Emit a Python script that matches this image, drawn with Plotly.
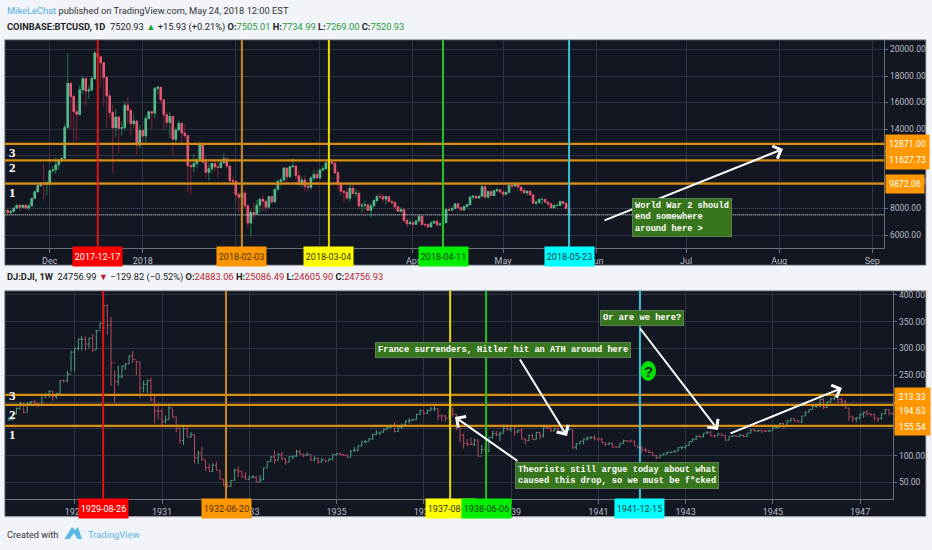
import pandas as pd
import plotly.graph_objects as go

# BTCUSD daily, 2017-11-16 to 2018-05-23
btc_close = [7850, 7690, 7790, 8030, 8240, 8090, 8240, 8030, 8200, 8760, 9260, 9720, 9900, 9850, 9950,
             10860, 10910, 11290, 11640, 11790, 14130, 17450, 16450, 15300, 15100, 16970, 17800, 16870, 16950, 17800, 19730,
             19450, 19000, 17900, 16500, 15250, 14100, 14900, 14050, 14100, 15800, 15400, 14400, 14600, 12790, 13880,
             13470, 14800, 15300, 15200, 17070, 17150, 16200, 15070, 14500, 14950, 13230, 13930, 14430, 13700, 13500, 11230,
             11150, 11400, 11600, 12810, 11500, 10740, 11000, 11400, 11150, 11100, 11450, 11750, 11200, 10100, 10050,
             9050, 8850, 9150, 8200, 6900, 7700, 7600, 8250, 8700, 8550, 8100, 8900, 8500, 9450, 10050, 10150, 11050, 10400,
             11150, 11200, 10470, 9830, 10150, 9680, 9600, 10300, 10570, 10300,
             10900, 11000, 11440, 11500, 11420, 10700, 9900, 9300, 9230, 8780, 9530, 9130, 9150, 8200, 8250, 8270, 7860, 8200,
             8600, 8900, 8880, 8710, 8900, 8530, 8440, 8130, 7790, 7930, 7090, 6840, 6930,
             6810, 7060, 7420, 6780, 6780, 6610, 6900, 7020, 6770, 6830, 6930, 7920, 7880, 8000, 8350, 8060, 7890, 8160, 8280,
             8860, 8920, 8790, 8930, 9650, 8860, 9280, 8980, 9340, 9410, 9240,
             9070, 9220, 9740, 9700, 9860, 9620, 9370, 9180, 9300, 9030, 8400, 8470, 8680, 8680, 8480, 8340, 8060, 8230, 8230,
             8520, 8390, 8000, 7530]
btc_high = [7990, 7990, 7860, 8100, 8310, 8380, 8300, 8350, 8350, 8800, 9370, 9760, 9990, 11400, 10050,
            10950, 11200, 11850, 11650, 11830, 14370, 19700, 17450, 16600, 15800, 17300, 18000, 17900, 17300, 18000, 19890,
            19700, 19400, 19100, 17900, 16900, 15800, 15500, 15000, 14500, 16100, 16400, 15600, 15100, 14700, 14300,
            14000, 15000, 15400, 15400, 17170, 17250, 17200, 16300, 15300, 15300, 15000, 14100, 14650, 14500, 14350, 13550,
            11700, 12100, 11800, 13050, 12950, 11950, 11400, 11500, 11700, 11700, 11650, 12150, 11800, 11250, 10400,
            10150, 9250, 9500, 9400, 8350, 7900, 8500, 8650, 8750, 9000, 8580, 8950, 8950, 9500, 10200, 10300, 11100, 11100,
            11250, 11780, 11300, 10900, 10400, 10500, 9880, 10450, 10880, 10900,
            11050, 11200, 11500, 11520, 11700, 11450, 10900, 10000, 9400, 9500, 9850, 9890, 9480, 9400, 8400, 8600, 8350, 8400,
            8700, 9050, 9180, 9100, 8920, 8950, 8650, 8550, 8200, 8100, 7950, 7300, 7200,
            7000, 7130, 7500, 7420, 6900, 6860, 7050, 7100, 7180, 6900, 6970, 8000, 8150, 8150, 8400, 8410, 8150, 8220, 8300,
            8900, 9040, 8970, 9000, 9750, 9750, 9300, 9400, 9420, 9600, 9450,
            9260, 9260, 9800, 9800, 9940, 9950, 9650, 9450, 9350, 9370, 9030, 8620, 8780, 8880, 8850, 8500, 8480, 8320, 8390,
            8600, 8580, 8400, 8040]
btc_low = [7120, 7500, 7550, 7790, 7970, 7800, 8050, 8000, 7830, 8180, 8740, 9300, 9650, 8600, 9000,
           9700, 10650, 10600, 10900, 11470, 11790, 13900, 14000, 13000, 13100, 15000, 16600, 15700, 16300, 16800, 17700,
           18900, 17200, 15700, 14100, 14800, 10700, 13400, 12150, 13500, 13900, 14400, 13500, 14100, 12100, 12500,
           12800, 12950, 14700, 14000, 14800, 16600, 15900, 13900, 14100, 13300, 12000, 12900, 13900, 12800, 13300, 9200,
           9050, 10700, 11100, 11550, 11400, 10300, 10100, 10700, 10800, 10300, 11000, 11400, 11000, 9900, 9700,
           8500, 7700, 8200, 7950, 6550, 5900, 7200, 7600, 7700, 7800, 7800, 8100, 8350, 8400, 9350, 9700, 10050, 10000,
           10300, 11100, 10200, 9700, 9600, 9300, 9300, 9400, 10100, 10200,
           10250, 10800, 10950, 11000, 11300, 10600, 9400, 9050, 8400, 8700, 8500, 9050, 8850, 7900, 7700, 7900, 7800, 7300,
           8150, 8450, 8750, 8500, 8300, 8480, 8300, 7850, 7740, 7730, 6900, 6570, 6800,
           6430, 6780, 7020, 6700, 6560, 6510, 6600, 6900, 6600, 6650, 6840, 6910, 7800, 7830, 7980, 7930, 7840, 7890, 8050,
           8200, 8650, 8740, 8780, 8910, 8700, 8720, 8950, 8900, 9250, 9130,
           8850, 9000, 9150, 9480, 9650, 9400, 9150, 9100, 8950, 9000, 8300, 8210, 8350, 8300, 8420, 8100, 7960, 8000, 8150,
           8200, 8330, 7950, 7450]

# DJI, one bar per month from June 1927 to October 1947
dji_close = [167, 178, 188, 197, 181, 198, 200,
             198, 194, 214, 214, 220, 210, 216, 240, 239, 252, 293, 300,
             317, 317, 308, 319, 297, 333, 347, 380, 343, 273, 238, 248,
             267, 271, 286, 279, 275, 226, 233, 240, 204, 183, 183, 164,
             167, 189, 172, 151, 128, 150, 135, 139, 96, 105, 93, 78,
             71, 82, 73, 56, 45, 43, 54, 73, 71, 61, 56, 60,
             60, 51, 55, 77, 89, 98, 91, 102, 94, 88, 98, 99,
             107, 103, 101, 102, 92, 95, 88, 92, 90, 93, 102, 104,
             102, 101, 97, 109, 110, 118, 126, 126, 131, 139, 142, 144,
             149, 152, 156, 145, 152, 157, 164, 166, 167, 177, 184, 179,
             184, 187, 187, 174, 174, 170, 185, 177, 154, 138, 123, 121,
             121, 129, 99, 111, 108, 134, 141, 139, 141, 151, 149, 155,
             144, 147, 131, 128, 138, 130, 143, 137, 153, 152, 146, 150,
             145, 146, 148, 149, 116, 122, 127, 131, 133, 134, 131, 131,
             124, 121, 123, 116, 116, 123, 128, 127, 127, 118, 115, 111,
             109, 106, 100, 96, 101, 103, 106, 107, 109, 115, 115, 119,
             126, 131, 136, 135, 142, 143, 137, 137, 141, 138, 129, 136,
             137, 136, 138, 136, 142, 148, 146, 147, 146, 146, 147, 152,
             153, 160, 154, 165, 169, 165, 163, 174, 181, 186, 192, 193,
             205, 190, 200, 206, 212, 205, 201, 189, 172, 169, 170, 177,
             181, 178, 177, 170, 169, 178, 186, 179, 178, 181]
dji_high = [172, 179, 190, 200, 199, 199, 202,
            204, 199, 215, 217, 222, 220, 217, 241, 242, 258, 296, 301,
            318, 323, 322, 320, 327, 334, 348, 381, 382, 359, 258, 268,
            268, 273, 287, 295, 277, 276, 240, 242, 246, 214, 198, 186,
            175, 194, 188, 173, 152, 156, 156, 144, 140, 109, 117, 92,
            85, 86, 89, 73, 56, 51, 54, 76, 80, 71, 69, 63,
            64, 62, 64, 78, 90, 99, 110, 105, 107, 96, 99, 100,
            111, 111, 104, 106, 102, 99, 97, 96, 92, 96, 103, 104,
            106, 103, 102, 110, 116, 119, 126, 129, 133, 141, 148, 145,
            150, 154, 158, 163, 153, 160, 166, 170, 169, 178, 186, 183,
            186, 191, 195, 188, 177, 176, 187, 190, 178, 155, 141, 131,
            134, 132, 130, 120, 118, 135, 146, 146, 145, 158, 155, 155,
            155, 149, 152, 133, 139, 140, 145, 144, 156, 156, 153, 152,
            153, 149, 149, 151, 149, 124, 127, 132, 136, 136, 138, 134,
            133, 124, 125, 124, 117, 124, 130, 129, 130, 128, 118, 118,
            114, 111, 107, 102, 102, 105, 108, 107, 110, 116, 118, 120,
            127, 132, 138, 138, 142, 146, 147, 139, 142, 140, 139, 136,
            138, 137, 141, 139, 142, 149, 150, 148, 147, 148, 148, 153,
            156, 161, 161, 166, 169, 169, 167, 174, 182, 187, 196, 196,
            206, 207, 201, 208, 213, 212, 208, 204, 189, 175, 172, 178,
            182, 185, 179, 178, 170, 179, 187, 186, 180, 187]
dji_low = [165, 166, 177, 186, 179, 181, 193,
           194, 191, 194, 207, 208, 202, 206, 216, 236, 237, 257, 257,
           296, 296, 296, 300, 293, 298, 336, 336, 326, 230, 199, 231,
           244, 260, 271, 273, 250, 208, 218, 217, 201, 160, 168, 155,
           160, 167, 170, 144, 122, 120, 134, 133, 86, 85, 90, 72,
           71, 70, 73, 56, 44, 41, 42, 54, 60, 58, 56, 55,
           58, 50, 50, 55, 77, 88, 85, 92, 92, 83, 88, 93,
           98, 101, 97, 100, 90, 90, 85, 88, 87, 90, 93, 100,
           100, 100, 96, 97, 108, 108, 118, 123, 127, 130, 139, 138,
           143, 148, 151, 143, 144, 150, 155, 160, 165, 167, 176, 176,
           178, 184, 183, 166, 165, 164, 170, 173, 147, 125, 113, 118,
           120, 118, 98, 103, 106, 107, 132, 136, 127, 142, 146, 145,
           137, 142, 130, 121, 128, 130, 130, 131, 134, 149, 144, 146,
           143, 144, 146, 146, 112, 111, 121, 121, 128, 131, 128, 127,
           124, 118, 120, 115, 115, 116, 123, 125, 125, 118, 114, 105,
           107, 105, 99, 93, 96, 102, 103, 105, 106, 108, 112, 114,
           119, 126, 129, 134, 135, 140, 136, 134, 137, 136, 128, 129,
           135, 135, 136, 135, 136, 142, 145, 144, 142, 144, 144, 147,
           151, 153, 152, 154, 163, 164, 162, 161, 174, 181, 185, 189,
           190, 186, 189, 199, 203, 198, 195, 187, 165, 163, 163, 168,
           171, 175, 173, 165, 163, 168, 177, 176, 176, 177]

btc_levels = [12871.00, 11627.73, 9872.06]
dji_levels = [213.33, 194.63, 155.54]
btc_last = 7520.93

# vertical markers: date, line colour, tag colour, tag text colour
btc_marks = [("2017-12-17", "#e01414", "#ff0000", "#ffffff"),
             ("2018-02-03", "#c98a24", "#ff9800", "#4a3000"),
             ("2018-03-04", "#e8d800", "#ffff00", "#333300"),
             ("2018-04-11", "#22c322", "#00ee00", "#004400"),
             ("2018-05-23", "#38c4d4", "#00ffff", "#004444")]
dji_marks = [("1929-08-26", "#e01414", "#ff0000", "#ffffff"),
             ("1932-06-20", "#c98a24", "#ff9800", "#4a3000"),
             ("1937-08-09", "#e8d800", "#ffff00", "#333300"),
             ("1938-06-06", "#22c322", "#00ee00", "#004400"),
             ("1941-12-15", "#38c4d4", "#00ffff", "#004444")]

btc_ticks = ["2017-12-01", "2018-01-01", "2018-02-01", "2018-03-01", "2018-04-01", "2018-05-01",
             "2018-06-01", "2018-07-01", "2018-08-01", "2018-09-01"]
btc_ticktext = ["Dec", "2018", "Feb", "Mar", "Apr", "May", "Jun", "Jul", "Aug", "Sep"]
btc_yticks = [6000, 8000, 10000, 12000, 14000, 16000, 18000, 20000]
dji_ticks = ["1929-01-01", "1931-01-01", "1933-01-01", "1935-01-01", "1937-01-01", "1939-01-01",
             "1941-01-01", "1943-01-01", "1945-01-01", "1947-01-01"]
dji_ticktext = ["1929", "1931", "1933", "1935", "1937", "1939", "1941", "1943", "1945", "1947"]
dji_yticks = [50, 100, 150, 200, 250, 300, 350, 400]

W, H = 932, 550
NARROW = "Roboto, sans-serif"
MONO = "Liberation Mono, DejaVu Sans Mono, monospace"
SERIF = "Liberation Serif, DejaVu Serif, serif"
DARK = "#131722"
GRID = "#2f3444"
AXIS = "#6a6f7c"
ORANGE = "#d98e12"
TAG = "#ff9800"
BOX = "#38761d"
BOX_EDGE = "#5f7f55"
TICK = "#b8bbc4"


def PX(x):
    return x / W


def PY(y):
    return 1 - y / H


def Candles(x, close, high, low, xaxis, yaxis, up, down, upWick, downWick):
    # wick trace in a dark colour under a body-only trace, as the wicks are dimmer than the bodies
    opens = [close[0]] + close[:-1]
    top = [max(a, b) for a, b in zip(opens, close)]
    bottom = [min(a, b) for a, b in zip(opens, close)]
    wick = go.Candlestick(x=x, open=opens, close=close, high=high, low=low, xaxis=xaxis, yaxis=yaxis,
                          increasing=dict(line=dict(color=upWick, width=1), fillcolor=upWick),
                          decreasing=dict(line=dict(color=downWick, width=1), fillcolor=downWick),
                          showlegend=False, hoverinfo="skip")
    body = go.Candlestick(x=x, open=opens, close=close, high=top, low=bottom, xaxis=xaxis, yaxis=yaxis,
                          increasing=dict(line=dict(color=up, width=1), fillcolor=up),
                          decreasing=dict(line=dict(color=down, width=1), fillcolor=down),
                          showlegend=False, hoverinfo="skip")
    return [wick, body]


def Text(x, y, text, size=11, color="#222222", family=NARROW, anchor="left", **kw):
    return dict(x=PX(x), y=PY(y), xref="paper", yref="paper", xanchor=anchor, yanchor="middle",
                text=text, showarrow=False, font=dict(size=size, color=color, family=family), **kw)


def Note(x, y, text, size=8.7):
    return Text(x, y, "<b>" + text + "</b>", size=size, color="#ffffff", family=MONO, anchor="center", align="left",
                bgcolor=BOX, bordercolor=BOX_EDGE, borderwidth=1, borderpad=2)


def Arrow(x0, y0, x1, y1):
    return dict(x=PX(x1), y=PY(y1), xref="paper", yref="paper", ax=x0 - x1, ay=y0 - y1, axref="pixel", ayref="pixel",
                text="", showarrow=True, arrowhead=4, arrowsize=1.3, arrowwidth=2, arrowcolor="#ffffff")


def DateTag(date, fill, color, xref, y):
    return dict(x=date, y=PY(y), xref=xref, yref="paper", xanchor="center", yanchor="middle", text=date,
                showarrow=False, width=47, height=17, bgcolor=fill, font=dict(size=9, color=color, family=NARROW))


def ValueTag(x1, y, text, width, height=16):
    return dict(x=PX(x1), y=PY(y), xref="paper", yref="paper", xanchor="left", yanchor="middle", text=text,
                showarrow=False, width=width, height=height, bgcolor=TAG,
                font=dict(size=8.8, color="#ffffff", family=NARROW))


def XAxis(rng, ticks, ticktext, left, right, anchor):
    return dict(type="date", range=rng, domain=[PX(left), PX(right)], anchor=anchor, tickmode="array",
                tickvals=ticks, ticktext=ticktext, showgrid=True, gridcolor=GRID, gridwidth=1, showline=True,
                linecolor=AXIS, linewidth=1, ticks="outside", ticklen=4, tickcolor=AXIS, zeroline=False,
                tickfont=dict(size=9, color=TICK, family=NARROW), rangeslider=dict(visible=False), fixedrange=True)


def YAxis(rng, ticks, top, bottom, anchor):
    return dict(range=rng, domain=[PY(bottom), PY(top)], anchor=anchor, side="right", tickmode="array", tickvals=ticks,
                ticktext=["%.2f" % t for t in ticks], showgrid=True, gridcolor=GRID, gridwidth=1, showline=True,
                linecolor=AXIS, linewidth=1, ticks="outside", ticklen=3, tickcolor=AXIS, zeroline=False,
                tickfont=dict(size=8.5, color=TICK, family=NARROW), fixedrange=True)


btc_dates = pd.date_range("2017-11-16", periods=len(btc_close), freq="D")
dji_dates = pd.date_range("1927-06-30", periods=len(dji_close), freq="ME")

fig = go.Figure()
for t in Candles(btc_dates, btc_close, btc_high, btc_low, "x", "y", "#58b88f", "#e35a72", "#1f7a45", "#7d2638"):
    fig.add_trace(t)
# thin bars whose open and close ticks join up, the weekly candles in the picture are about a pixel wide
dji_open = [dji_close[0]] + dji_close[:-1]
fig.add_trace(go.Ohlc(x=dji_dates, open=dji_open, close=dji_close, high=dji_high, low=dji_low, xaxis="x2", yaxis="y2",
                      tickwidth=0.45, increasing=dict(line=dict(color="#4f9f80", width=1)),
                      decreasing=dict(line=dict(color="#b8485c", width=1)), showlegend=False, hoverinfo="skip"))

shapes = []
# dark panels go under the plot areas, so the axis strips and price scales are dark too
for y0, y1 in [(39.7, 265.3), (290.7, 516.7)]:
    shapes.append(dict(type="rect", xref="paper", yref="paper", x0=PX(4.7), x1=PX(926), y0=PY(y0), y1=PY(y1),
                       fillcolor=DARK, line=dict(color="#a9adb5", width=1), layer="below"))
for level in btc_levels:
    shapes.append(dict(type="line", xref="x domain", yref="y", x0=0, x1=1, y0=level, y1=level,
                       line=dict(color=ORANGE, width=2.3)))
for level in dji_levels:
    shapes.append(dict(type="line", xref="x2 domain", yref="y2", x0=0, x1=1, y0=level, y1=level,
                       line=dict(color=ORANGE, width=2.3)))
shapes.append(dict(type="line", xref="x domain", yref="y", x0=0, x1=1, y0=btc_last, y1=btc_last,
                   line=dict(color="#ffffff", width=1, dash="1px,1px")))
for date, color, fill, text in btc_marks:
    shapes.append(dict(type="line", xref="x", yref="y domain", x0=date, x1=date, y0=0, y1=1,
                       line=dict(color=color, width=2)))
for date, color, fill, text in dji_marks:
    shapes.append(dict(type="line", xref="x2", yref="y2 domain", x0=date, x1=date, y0=0, y1=1,
                       line=dict(color=color, width=2)))
# question mark badge
shapes.append(dict(type="circle", xref="paper", yref="paper", x0=PX(640.5), x1=PX(656), y0=PY(361), y1=PY(381),
                   fillcolor="#00e000", line=dict(width=0)))
# TradingView cloud logo
shapes.append(dict(type="path", xref="paper", yref="paper", fillcolor="#5cb8e4", line=dict(width=0),
                   path="M %f,%f L %f,%f L %f,%f L %f,%f L %f,%f L %f,%f Z" % (
                       PX(64.5), PY(539), PX(72), PY(527), PX(75), PY(530), PX(78), PY(527),
                       PX(82), PY(539), PX(72), PY(539))))
shapes.append(dict(type="path", xref="paper", yref="paper", fillcolor="#f1f4f9", line=dict(width=0),
                   path="M %f,%f L %f,%f L %f,%f Z" % (
                       PX(69), PY(540), PX(74), PY(533), PX(78), PY(540))))

annotations = [
    Text(5, 10.5, "<span style='color:#53b1de'>MikeLeChat</span> published on TradingView.com, May 24, 2018 12:00 EST",
         size=9.3, color="#333333"),
    Text(5, 27, "<b>COINBASE:BTCUSD, 1D</b>  7520.93 <span style='color:#1fa32f'>▲</span> +15.93 (+0.21%) "
                "<b>O:</b><span style='color:#1f9a3a'>7505.01</span> <b>H:</b><span style='color:#1f9a3a'>7734.99</span> "
                "<b>L:</b><span style='color:#1f9a3a'>7269.00</span> <b>C:</b><span style='color:#1f9a3a'>7520.93</span>",
         size=9.3, color="#222222"),
    Text(5, 277, "<b>DJ:DJI, 1W</b>  24756.99 <span style='color:#c0202c'>▼</span> −129.82 (−0.52%) "
                 "<b>O:</b><span style='color:#b9222e'>24883.06</span> <b>H:</b><span style='color:#b9222e'>25086.49</span> "
                 "<b>L:</b><span style='color:#b9222e'>24605.90</span> <b>C:</b><span style='color:#b9222e'>24756.93</span>",
         size=9.3, color="#222222"),
    Text(5, 534, "Created with", size=9.2, color="#333333"),
    Text(86, 534, "TradingView", size=9.4, color="#5cb4e0"),
    Text(12, 152, "<b>3</b>", size=13, color="#ffffff", family=SERIF, anchor="center"),
    Text(12, 168, "<b>2</b>", size=13, color="#ffffff", family=SERIF, anchor="center"),
    Text(12, 192, "<b>1</b>", size=13, color="#ffffff", family=SERIF, anchor="center"),
    Text(12, 395, "<b>3</b>", size=13, color="#ffffff", family=SERIF, anchor="center"),
    Text(12, 414, "<b>2</b>", size=13, color="#ffffff", family=SERIF, anchor="center"),
    Text(12, 434, "<b>1</b>", size=13, color="#ffffff", family=SERIF, anchor="center"),
    Arrow(603, 221, 783, 149),
    Arrow(519, 462, 455, 417),
    Arrow(519, 358, 567, 436),
    Arrow(639, 327, 718, 430),
    Arrow(729, 434, 842, 388),
    Note(682, 217, "World War 2 should<br>end somewhere<br>around here &gt;"),
    Note(503, 350, "France surrenders, Hitler hit an ATH around here"),
    Note(617, 475, "Theorists still argue today about what<br>caused this drop, so we must be f*cked"),
    Note(642, 318, "Or are we here?"),
    Text(648, 371, "<b>?</b>", size=15, color="#1a2a1a", family="Liberation Sans, sans-serif", anchor="center"),
]
for date, color, fill, text in btc_marks:
    annotations.append(DateTag(date, fill, text, "x", 256.8))
for date, color, fill, text in dji_marks:
    annotations.append(DateTag(date, fill, text, "x2", 508))
for y, text, width in [(144, "%.2f" % btc_levels[0], 41), (160.5, "%.2f" % btc_levels[1], 41), (184, "%.2f" % btc_levels[2], 36)]:
    annotations.append(ValueTag(885, y, text, width))
for y, text in [(396, "%.2f" % dji_levels[0]), (410, "%.2f" % dji_levels[1]), (426, "%.2f" % dji_levels[2])]:
    annotations.append(ValueTag(893.5, y, text, 32.5, 15))

fig.update_layout(
    width=W, height=H, margin=dict(l=0, r=0, t=0, b=0), paper_bgcolor="#f1f4f9", plot_bgcolor=DARK,
    showlegend=False, shapes=shapes, annotations=annotations, hovermode=False,
    xaxis=XAxis(["2017-11-16", "2018-09-05"], btc_ticks, btc_ticktext, 4.7, 884.3, "y"),
    yaxis=YAxis([4996, 20740], btc_yticks, 39.7, 248.3, "x"),
    xaxis2=XAxis(["1927-05-25", "1947-10-06"], dji_ticks, dji_ticktext, 4.7, 893.3, "y2"),
    yaxis2=YAxis([18.7, 407.5], dji_yticks, 290.7, 499.3, "x2"),
)

# the page's default body margin would push the fixed-size figure off the window
fig.write_html("out.html", config=dict(displayModeBar=False),
               post_script="document.body.style.margin='0'; document.body.style.background='#f1f4f9';")
